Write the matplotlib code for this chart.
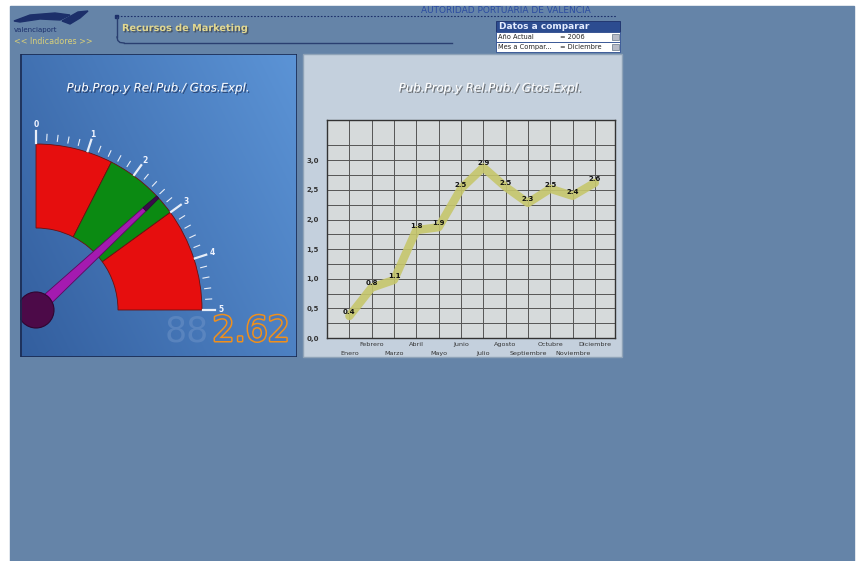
import numpy as np
import matplotlib
matplotlib.use('Agg')
import matplotlib.pyplot as plt
from matplotlib.patches import Rectangle, Wedge, Circle, Polygon
import matplotlib.patheffects as pe

# datos del indicador
titulo = 'Pub.Prop.y Rel.Pub./ Gtos.Expl.'
meses = ['Enero', 'Febrero', 'Marzo', 'Abril', 'Mayo', 'Junio', 'Julio',
         'Agosto', 'Septiembre', 'Octubre', 'Noviembre', 'Diciembre']
valores = [0.37, 0.85, 0.98, 1.82, 1.87, 2.52, 2.88, 2.55, 2.28, 2.52, 2.40, 2.62]
etiquetas = ['0.4', '0.8', '1.1', '1.8', '1.9', '2.5', '2.9', '2.5', '2.3', '2.5', '2.4', '2.6']
y_ticks = [0.0, 0.5, 1.0, 1.5, 2.0, 2.5, 3.0]

# reloj
valor_actual = 2.62
escala_max = 5
bandas = [(0, 1.5, '#e60e0e'), (1.5, 3.0, '#0b8a12'), (3.0, 5, '#e60e0e')]

fig = plt.figure(figsize=(8.56, 5.61), dpi=100)
fig.patch.set_facecolor('white')

# fondo de la pagina (coordenadas en pixeles)
bg = fig.add_axes([0, 0, 1, 1])
bg.set_xlim(0, 856)
bg.set_ylim(561, 0)
bg.axis('off')
bg.add_patch(Rectangle((10, 6), 844, 555, color='#6584a8', zorder=0))

# logo
bg.add_patch(Polygon([(14, 21), (30, 15), (55, 13), (70, 15), (60, 20), (40, 19), (20, 22)],
                     color='#1c2f6a', zorder=2))
bg.add_patch(Polygon([(62, 21), (78, 12), (88, 11), (80, 18), (70, 24)], color='#1c2f6a', zorder=2))
bg.text(14, 30, 'valenciaport', fontsize=5, color='#1c2f6a', va='center', ha='left')
bg.text(14, 41, '<< Indicadores >>', fontsize=5.8, color='#d8cf7a', va='center', ha='left')

# cabecera
bg.plot([117, 617], [16, 16], color='#1c2f6a', lw=0.8, ls=(0, (1.5, 1.5)))
bg.add_patch(Rectangle((115.5, 14.5), 3, 3, color='#1c2f6a'))
bg.plot([117, 117], [17, 37], color='#2a3f70', lw=1)
bg.plot([117, 117.8, 120, 124], [37, 40.5, 42.5, 43], color='#2a3f70', lw=1)
bg.plot([124, 452], [43, 43], color='#2a3f70', lw=1)
bg.text(122, 28, 'Recursos de Marketing', fontsize=7, fontweight='bold', color='#e2d890',
        va='center', ha='left',
        path_effects=[pe.withSimplePatchShadow(offset=(1, -1), shadow_rgbFace='#333333', alpha=0.6)])
bg.text(506, 10, 'AUTORIDAD PORTUARIA DE VALENCIA', fontsize=6.5, color='#2c4ca0',
        va='center', ha='center')

# caja "Datos a comparar"
bg.add_patch(Rectangle((496, 21), 124, 11, facecolor='#2c4c90', edgecolor='#1c2f6a', lw=0.6))
bg.text(499, 26.5, 'Datos a comparar', fontsize=6.5, fontweight='bold', color='#e4ecff',
        va='center', ha='left')
for i, (campo, dato) in enumerate([('Año Actual', '= 2006'), ('Mes a Compar...', '= Diciembre')]):
    y0 = 32 + i * 10
    bg.add_patch(Rectangle((496, y0), 124, 10, facecolor='white', edgecolor='#2c4c90', lw=0.6))
    bg.text(498, y0 + 5, campo, fontsize=4.8, color='#222222', va='center', ha='left')
    bg.text(560, y0 + 5, dato, fontsize=4.8, color='#222222', va='center', ha='left')
    bg.add_patch(Rectangle((612, y0 + 2), 7, 6, facecolor='#b8bcc8', edgecolor='#667788', lw=0.5))

# panel derecho
bg.add_patch(Rectangle((303, 54), 319, 303, facecolor='#c4d0dd', edgecolor='#8fa3b8', lw=1))
bg.text(490, 88, titulo, fontsize=8.5, style='italic', color='white', ha='center', va='center',
        path_effects=[pe.withSimplePatchShadow(offset=(1, -1), shadow_rgbFace='#444444', alpha=0.7)])

# ---------------- reloj ----------------
ga = fig.add_axes([20 / 856, 1 - 357 / 561, 277 / 856, 303 / 561])
ga.set_xlim(0, 277)
ga.set_ylim(0, 303)
ga.axis('off')

xx = np.linspace(0, 1, 200)
yy = np.linspace(0, 1, 200)
X, Y = np.meshgrid(xx, yy)
grad = 0.65 * X + 0.35 * (1 - Y)
c0 = np.array([0.20, 0.37, 0.62])
c1 = np.array([0.36, 0.58, 0.84])
img = c0 + grad[..., None] * (c1 - c0)
ga.imshow(img, extent=(0, 277, 0, 303), origin='upper', aspect='auto', zorder=0)
ga.add_patch(Rectangle((0.5, 0.5), 276, 302, fill=False, edgecolor='#1a2a50', lw=1.2, zorder=10))

cx, cy = 16, 47
r_out, r_in = 166, 82


def ang(v):
    return 90 - 90 * v / escala_max


for v0, v1, col in bandas:
    ga.add_patch(Wedge((cx, cy), r_out, ang(v1), ang(v0), width=r_out - r_in,
                       facecolor=col, edgecolor='#6a1010', lw=0.6, zorder=2))

for k in range(escala_max * 5 + 1):
    v = k / 5
    a = np.radians(ang(v))
    mayor = k % 5 == 0
    r0, r1 = (167, 179) if mayor else (170, 176)
    ga.plot([cx + r0 * np.cos(a), cx + r1 * np.cos(a)], [cy + r0 * np.sin(a), cy + r1 * np.sin(a)],
            color='#e8eef8', lw=1.6 if mayor else 0.8, zorder=3)
    if mayor:
        ga.text(cx + 185 * np.cos(a), cy + 185 * np.sin(a), str(int(v)), fontsize=5.5,
                fontweight='bold', color='#f0f4ff', ha='center', va='center', zorder=3)

a = np.radians(ang(valor_actual))
u = np.array([np.cos(a), np.sin(a)])
n = np.array([-np.sin(a), np.cos(a)])
c = np.array([cx, cy])
aguja = [c + 6 * n, c + 148 * u + 2.2 * n, c + 148 * u - 2.2 * n, c - 6 * n]
ga.add_patch(Polygon(aguja, facecolor='#a41ab0', edgecolor='#5a0a60', lw=0.6, zorder=4))
punta = [c + 148 * u + 2.4 * n, c + 166 * u + 1.6 * n, c + 166 * u - 1.6 * n, c + 148 * u - 2.4 * n]
ga.add_patch(Polygon(punta, facecolor='#3a0c4a', edgecolor='#2a0835', lw=0.5, zorder=4))
ga.add_patch(Circle((cx, cy), 18, facecolor='#4c0a48', edgecolor='#300530', lw=0.8, zorder=5))

ga.text(138, 269, titulo, fontsize=8.5, style='italic', color='white', ha='center', va='center',
        path_effects=[pe.withSimplePatchShadow(offset=(1, -1), shadow_rgbFace='#1a2a50', alpha=0.7)],
        zorder=6)

# display digital
ga.text(189, 26, '88', fontsize=25, color='#6f94c8', alpha=0.5, ha='right', va='center', zorder=6)
ga.text(270, 26, f'{valor_actual:.2f}', fontsize=25, color='#4a78b8', ha='right', va='center',
        path_effects=[pe.Stroke(linewidth=2.2, foreground='#f0901c'), pe.Normal()], zorder=7)

# ---------------- grafico de lineas ----------------
ax = fig.add_axes([327 / 856, 1 - 338 / 561, 288 / 856, 218 / 561])
ax.set_facecolor('#d6dadb')
x = np.arange(len(meses))
ax.set_xlim(-1.0, 11.9)
ax.set_ylim(0, 3.68)
ax.set_yticks(y_ticks)
ax.set_yticks(np.arange(0.25, 3.68, 0.5), minor=True)
ax.set_yticklabels([f'{t:.1f}'.replace('.', ',') for t in y_ticks])
ax.set_xticks(x)
ax.set_xticklabels(meses)
ax.grid(True, which='both', color='#555555', lw=0.7)
ax.set_axisbelow(True)
ax.tick_params(axis='both', which='both', length=0, labelsize=5, labelcolor='#333333')
ax.tick_params(axis='x', labelsize=4.6)
ax.tick_params(axis='y', pad=6)
for lab in ax.get_yticklabels():
    lab.set_fontweight('bold')
for i, tk in enumerate(ax.xaxis.get_major_ticks()):
    tk.set_pad(9.5 if i % 2 == 0 else 2.8)
for s in ax.spines.values():
    s.set_color('#333333')
    s.set_linewidth(1)

ax.plot(x, valores, color='#c6c66c', lw=6, alpha=0.9, solid_joinstyle='round',
        solid_capstyle='round', zorder=3)
for xi, yi, et in zip(x, valores, etiquetas):
    ax.annotate(et, (xi, yi), xytext=(0, 3), textcoords='offset points', ha='center', va='center',
                fontsize=5, fontweight='bold', color='#111111', zorder=4)

fig.savefig('out.png', dpi=100, facecolor=fig.get_facecolor())
